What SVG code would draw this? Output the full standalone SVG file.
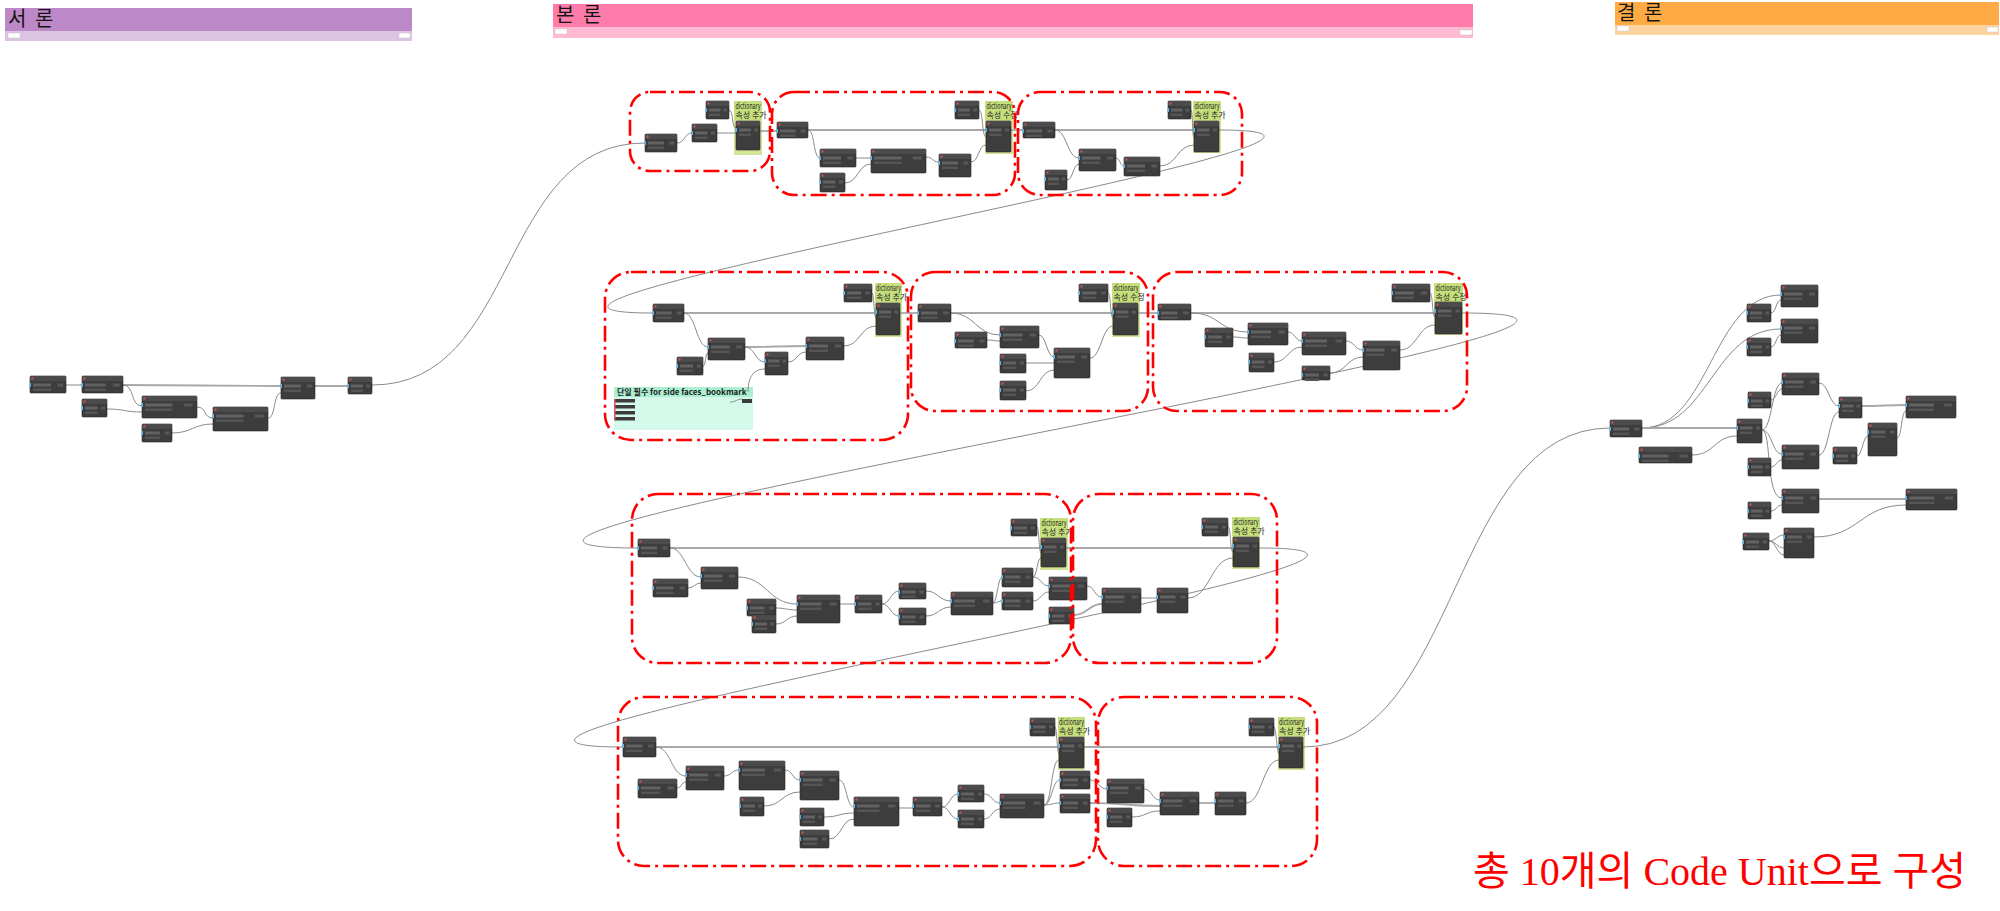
<svg xmlns="http://www.w3.org/2000/svg" xmlns:xlink="http://www.w3.org/1999/xlink" width="2000" height="911" viewBox="0 0 2000 911">
<style>
.w{fill:none;stroke:#8a8a8a;stroke-width:1}
.wm{fill:none;stroke:#a9a9a9;stroke-width:1.8}
.rg{fill:none;stroke:#ff0000;stroke-width:2.6;stroke-dasharray:16 5 3 5}
.gn{fill:#d2e596}
.gh{fill:#c6df7c}
.gt{font-family:"Noto Sans CJK KR","Noto Sans",sans-serif;font-size:8px;fill:#1c1c1c}
.ht{font-family:"Noto Sans CJK KR","Noto Sans",sans-serif;font-size:20px;fill:#151515;letter-spacing:2px}
.btn{fill:#ffffff;stroke:#c8c8c8;stroke-width:.5}
.bar{fill:#3c3c3c}
</style>
<defs>
<symbol id="nd" overflow="visible">
<rect width="100%" height="100%" rx="1" fill="#3d3d3d" stroke="#262626" stroke-width=".6"/>
<rect width="100%" height="5" fill="#4b4b4b"/>
<rect x="1.5" y="1.5" width="2" height="2" fill="#d9534f"/>
<rect x="3" y="7.5" width="50%" height="3" fill="#626262"/>
<rect x="3" y="12.5" width="50%" height="2.5" fill="#555555"/>
<rect x="76%" y="7.5" width="16%" height="3" fill="#585858"/>
<rect x="-0.6" y="7" width="1.6" height="4" fill="#5fb4ea"/>
</symbol>
</defs>
<rect width="2000" height="911" fill="#ffffff"/>

<!-- headers -->
<g id="hdr-intro">
<rect x="5" y="8" width="407" height="33" fill="#dcc3e2"/>
<rect x="5" y="8" width="407" height="23" fill="#bd88c7"/>
<text class="ht" x="8" y="26">서 론</text>
<rect class="btn" x="8" y="33" width="12" height="5"/>
<rect class="btn" x="399" y="33" width="11" height="5"/>
</g>
<g id="hdr-body">
<rect x="553" y="4" width="920" height="34" fill="#ffbad3"/>
<rect x="553" y="4" width="920" height="23" fill="#ff7caa"/>
<text class="ht" x="556" y="22">본 론</text>
<rect class="btn" x="555" y="29" width="12" height="5"/>
<rect class="btn" x="1460" y="30" width="12" height="5"/>
</g>
<g id="hdr-concl">
<rect x="1615" y="2" width="384" height="33" fill="#ffd39f"/>
<rect x="1615" y="2" width="384" height="23" fill="#ffab45"/>
<text class="ht" x="1617" y="20">결 론</text>
<rect class="btn" x="1617" y="26" width="12" height="5"/>
<rect class="btn" x="1987" y="27" width="11" height="5"/>
</g>

<!-- green notes and mint group -->
<g id="noteA"><rect class="gn" x="734" y="101" width="28" height="54"/><rect class="gh" x="734" y="101" width="28" height="19"/><text class="gt" x="735.5" y="109" textLength="25" lengthAdjust="spacingAndGlyphs">dictionary</text><text class="gt" x="735.5" y="118">속성 추가</text></g>
<g id="noteB"><rect class="gn" x="985" y="101" width="28" height="53"/><rect class="gh" x="985" y="101" width="28" height="19"/><text class="gt" x="986.5" y="109" textLength="25" lengthAdjust="spacingAndGlyphs">dictionary</text><text class="gt" x="986.5" y="118">속성 수정</text></g>
<g id="noteC"><rect class="gn" x="1193" y="101" width="28" height="52"/><rect class="gh" x="1193" y="101" width="28" height="19"/><text class="gt" x="1194.5" y="109" textLength="25" lengthAdjust="spacingAndGlyphs">dictionary</text><text class="gt" x="1194.5" y="118">속성 추가</text></g>
<g id="noteD"><rect class="gn" x="875" y="283" width="27" height="54"/><rect class="gh" x="875" y="283" width="27" height="19"/><text class="gt" x="876" y="291" textLength="25" lengthAdjust="spacingAndGlyphs">dictionary</text><text class="gt" x="876" y="300">속성 추가</text></g>
<g id="noteE"><rect class="gn" x="1112" y="283" width="28" height="54"/><rect class="gh" x="1112" y="283" width="28" height="19"/><text class="gt" x="1113.5" y="291" textLength="25" lengthAdjust="spacingAndGlyphs">dictionary</text><text class="gt" x="1113.5" y="300">속성 수정</text></g>
<g id="noteF"><rect class="gn" x="1434" y="283" width="29" height="52"/><rect class="gh" x="1434" y="283" width="29" height="19"/><text class="gt" x="1435.5" y="291" textLength="25" lengthAdjust="spacingAndGlyphs">dictionary</text><text class="gt" x="1435.5" y="300">속성 수정</text></g>
<g id="noteG"><rect class="gn" x="1040" y="518" width="28" height="52"/><rect class="gh" x="1040" y="518" width="28" height="19"/><text class="gt" x="1041.5" y="526" textLength="25" lengthAdjust="spacingAndGlyphs">dictionary</text><text class="gt" x="1041.5" y="535">속성 추가</text></g>
<g id="noteH"><rect class="gn" x="1232" y="517" width="28" height="52"/><rect class="gh" x="1232" y="517" width="28" height="19"/><text class="gt" x="1233.5" y="525" textLength="25" lengthAdjust="spacingAndGlyphs">dictionary</text><text class="gt" x="1233.5" y="534">속성 추가</text></g>
<g id="noteI"><rect class="gn" x="1058" y="717" width="27" height="53"/><rect class="gh" x="1058" y="717" width="27" height="19"/><text class="gt" x="1059" y="725" textLength="25" lengthAdjust="spacingAndGlyphs">dictionary</text><text class="gt" x="1059" y="734">속성 추가</text></g>
<g id="noteJ"><rect class="gn" x="1278" y="717" width="27" height="53"/><rect class="gh" x="1278" y="717" width="27" height="19"/><text class="gt" x="1279" y="725" textLength="25" lengthAdjust="spacingAndGlyphs">dictionary</text><text class="gt" x="1279" y="734">속성 추가</text></g>
<g id="mint">
<rect x="614" y="387" width="139" height="43" fill="#d4f8ea"/>
<rect x="614" y="387" width="139" height="10" fill="#abf0d3"/>
<text class="gt" x="617" y="395" font-weight="bold">단일 필수 for side faces_bookmark</text>
<rect class="bar" x="615" y="399" width="20" height="3.5"/><rect class="bar" x="615" y="405" width="20" height="3.5"/><rect class="bar" x="615" y="411" width="20" height="3.5"/><rect class="bar" x="615" y="417" width="20" height="3.5"/>
<rect x="614" y="399" width="1.5" height="21.5" fill="#d9534f"/>
<rect class="bar" x="742" y="399" width="10" height="4"/>
<path class="w" d="M730 402 C736 402 737 399 742 399"/>
</g>

<!-- connectors -->
<g id="connectors">
<path class="w" d="M66 385 H82"/>
<path class="wm" d="M123 385 C200 385 204 386 281 386"/>
<path class="w" d="M123 385 C135 385 130 406 142 406"/>
<path class="w" d="M107 409 C124 409 125 412 142 412"/>
<path class="w" d="M197 407 C207 407 203 418 213 418"/>
<path class="w" d="M172 433 C192 433 193 424 213 424"/>
<path class="w" d="M268 418 C276 418 273 393 281 393"/>
<path class="wm" d="M315 386 H348"/>
<path class="w" d="M372 385 C520 385 497 143 645 143"/>

<path class="w" d="M677 143 C685 143 684 133 692 133"/>
<path class="w" d="M717 133 H736"/>
<path class="w" d="M729 110 C734 110 731 128 736 128"/>
<path class="wm" d="M760 131 H777"/>
<path class="wm" d="M808 130 H986"/>
<path class="wm" d="M1011 130 H1023"/>
<path class="wm" d="M1055 130 H1194"/>
<path class="w" d="M808 130 C815 130 813 158 820 158"/>
<path class="w" d="M856 158 H871"/>
<path class="w" d="M845 183 C858 183 858 164 871 164"/>
<path class="w" d="M926 157 C933 157 932 162 939 162"/>
<path class="w" d="M971 162 C979 162 978 145 986 145"/>
<path class="w" d="M979 110 C983 110 982 137 986 137"/>
<path class="w" d="M1055 130 C1067 130 1067 158 1079 158"/>
<path class="w" d="M1067 180 C1073 180 1073 164 1079 164"/>
<path class="w" d="M1116 158 C1120 158 1120 166 1124 166"/>
<path class="w" d="M1160 166 C1177 166 1177 145 1194 145"/>
<path class="w" d="M1191 110 C1193 110 1192 137 1194 137"/>
<path class="w" d="M1219 130 C1499 130 373 313 653 313"/>

<path class="wm" d="M684 313 H876"/>
<path class="wm" d="M900 313 H918"/>
<path class="wm" d="M951 313 H1113"/>
<path class="wm" d="M1138 313 H1158"/>
<path class="wm" d="M1191 313 H1435"/>
<path class="w" d="M684 313 C696 313 696 347 708 347"/>
<path class="w" d="M703 366 C706 366 705 353 708 353"/>
<path class="wm" d="M745 347 C775 347 776 346 806 346"/>
<path class="w" d="M745 347 C755 347 755 362 765 362"/>
<path class="w" d="M788 362 C797 362 797 352 806 352"/>
<path class="w" d="M748 392 C748 375 755 369 765 369"/>
<path class="w" d="M844 346 C860 346 860 326 876 326"/>
<path class="w" d="M872 293 C874 293 874 318 876 318"/>
<path class="w" d="M951 313 C975 313 976 335 1000 335"/>
<path class="w" d="M987 340 C993 340 994 341 1000 341"/>
<path class="w" d="M1039 335 C1046 335 1047 357 1054 357"/>
<path class="w" d="M1026 363 H1054"/>
<path class="w" d="M1026 391 C1040 391 1040 370 1054 370"/>
<path class="w" d="M1090 358 C1101 358 1102 326 1113 326"/>
<path class="w" d="M1108 293 C1111 293 1110 318 1113 318"/>
<path class="w" d="M1191 313 C1220 313 1219 332 1248 332"/>
<path class="w" d="M1233 337 C1240 337 1241 338 1248 338"/>
<path class="w" d="M1288 332 C1295 332 1295 341 1302 341"/>
<path class="w" d="M1274 362 C1288 362 1288 347 1302 347"/>
<path class="w" d="M1346 341 C1354 341 1355 350 1363 350"/>
<path class="w" d="M1330 373 C1346 373 1347 357 1363 357"/>
<path class="w" d="M1400 350 C1417 350 1418 325 1435 325"/>
<path class="w" d="M1430 293 C1433 293 1432 317 1435 317"/>
<path class="w" d="M1462 313 C1822 313 278 548 638 548"/>

<path class="wm" d="M670 548 H1041"/>
<path class="wm" d="M1066 548 H1233"/>
<path class="w" d="M670 548 C685 548 686 577 701 577"/>
<path class="w" d="M688 588 C694 588 695 583 701 583"/>
<path class="w" d="M738 577 C767 577 768 604 797 604"/>
<path class="w" d="M776 608 C786 608 787 610 797 610"/>
<path class="w" d="M776 624 C786 624 787 616 797 616"/>
<path class="w" d="M840 604 H855"/>
<path class="w" d="M882 604 C890 604 891 591 899 591"/>
<path class="w" d="M882 604 C890 604 891 616 899 616"/>
<path class="w" d="M926 591 C938 591 939 601 951 601"/>
<path class="w" d="M926 616 C938 616 939 607 951 607"/>
<path class="w" d="M993 603 C997 603 998 577 1002 577"/>
<path class="w" d="M993 603 C997 603 998 601 1002 601"/>
<path class="w" d="M1033 577 C1037 577 1037 558 1041 558"/>
<path class="w" d="M1037 527 C1039 527 1039 553 1041 553"/>
<path class="w" d="M1033 577 C1041 577 1041 586 1049 586"/>
<path class="w" d="M1033 601 C1041 601 1041 592 1049 592"/>
<path class="w" d="M1087 586 C1095 586 1094 597 1102 597"/>
<path class="wm" d="M1074 615 C1088 615 1088 604 1102 604"/>
<path class="w" d="M1141 598 H1157"/>
<path class="w" d="M1188 598 C1210 598 1211 558 1233 558"/>
<path class="w" d="M1228 527 C1231 527 1230 552 1233 552"/>
<path class="w" d="M1259 548 C1564 548 318 747 623 747"/>

<path class="wm" d="M656 747 H1059"/>
<path class="wm" d="M1084 747 H1279"/>
<path class="w" d="M656 747 C671 747 671 776 686 776"/>
<path class="w" d="M677 788 C682 788 681 782 686 782"/>
<path class="w" d="M724 776 C732 776 731 770 739 770"/>
<path class="w" d="M785 770 C793 770 792 780 800 780"/>
<path class="w" d="M764 806 C782 806 782 792 800 792"/>
<path class="w" d="M839 780 C847 780 846 807 854 807"/>
<path class="w" d="M824 817 C839 817 839 813 854 813"/>
<path class="w" d="M829 839 C842 839 841 819 854 819"/>
<path class="w" d="M899 808 H913"/>
<path class="w" d="M942 807 C950 807 950 794 958 794"/>
<path class="w" d="M942 807 C950 807 950 819 958 819"/>
<path class="w" d="M984 794 C992 794 992 803 1000 803"/>
<path class="w" d="M984 819 C992 819 992 809 1000 809"/>
<path class="w" d="M1044 805 C1052 805 1052 780 1060 780"/>
<path class="w" d="M1044 805 C1052 805 1052 803 1060 803"/>
<path class="w" d="M1044 805 C1052 805 1051 760 1059 760"/>
<path class="w" d="M1055 727 C1057 727 1057 754 1059 754"/>
<path class="w" d="M1090 780 C1098 780 1099 789 1107 789"/>
<path class="wm" d="M1090 803 C1125 803 1125 806 1160 806"/>
<path class="w" d="M1144 789 C1152 789 1152 800 1160 800"/>
<path class="w" d="M1132 817 C1146 817 1146 811 1160 811"/>
<path class="wm" d="M1199 803 H1215"/>
<path class="w" d="M1246 803 C1262 803 1263 760 1279 760"/>
<path class="w" d="M1274 727 C1276 727 1277 754 1279 754"/>
<path class="w" d="M1303 747 C1460 747 1450 428 1610 428"/>

<path class="w" d="M1642 428 C1710 428 1712 295 1781 295"/>
<path class="w" d="M1642 428 C1710 428 1712 329 1781 329"/>
<path class="wm" d="M1642 428 H1737"/>
<path class="w" d="M1771 313 C1776 313 1776 300 1781 300"/>
<path class="w" d="M1771 347 C1776 347 1776 335 1781 335"/>
<path class="w" d="M1692 455 C1715 455 1714 436 1737 436"/>
<path class="w" d="M1762 430 C1772 430 1772 383 1782 383"/>
<path class="w" d="M1762 430 C1772 430 1772 454 1782 454"/>
<path class="w" d="M1762 430 C1772 430 1765 498 1782 498"/>
<path class="w" d="M1771 400 C1776 400 1777 389 1782 389"/>
<path class="w" d="M1771 467 C1776 467 1777 460 1782 460"/>
<path class="w" d="M1819 383 C1829 383 1829 406 1839 406"/>
<path class="w" d="M1819 455 C1829 455 1829 412 1839 412"/>
<path class="wm" d="M1862 406 C1884 406 1884 405 1906 405"/>
<path class="w" d="M1857 456 C1862 456 1863 436 1868 436"/>
<path class="w" d="M1897 438 C1902 438 1901 411 1906 411"/>
<path class="wm" d="M1819 499 H1906"/>
<path class="w" d="M1771 511 C1776 511 1777 505 1782 505"/>
<path class="w" d="M1769 541 C1776 541 1777 535 1784 535"/>
<path class="w" d="M1769 541 C1776 541 1777 548 1784 548"/>
<path class="w" d="M1769 541 C1776 541 1777 555 1784 555"/>
<path class="w" d="M1814 537 C1860 537 1860 505 1906 505"/>
</g>

<!-- nodes -->
<g id="n1"><use href="#nd" x="30" y="376" width="36" height="17"/></g>
<g id="n2"><use href="#nd" x="82" y="376" width="41" height="17"/></g>
<g id="n3"><use href="#nd" x="82" y="399" width="25" height="18"/></g>
<g id="n4"><use href="#nd" x="142" y="396" width="55" height="22"/></g>
<g id="n5"><use href="#nd" x="142" y="424" width="30" height="18"/></g>
<g id="n6"><use href="#nd" x="213" y="407" width="55" height="24"/></g>
<g id="n7"><use href="#nd" x="281" y="377" width="34" height="22"/></g>
<g id="n8"><use href="#nd" x="348" y="377" width="24" height="17"/></g>

<g id="a1"><use href="#nd" x="645" y="134" width="32" height="18"/></g>
<g id="a2"><use href="#nd" x="692" y="124" width="25" height="18"/></g>
<g id="a3"><use href="#nd" x="706" y="101" width="23" height="18"/></g>
<g id="a4"><use href="#nd" x="736" y="121" width="24" height="29"/></g>
<g id="b1"><use href="#nd" x="777" y="122" width="31" height="16"/></g>
<g id="b2"><use href="#nd" x="820" y="149" width="36" height="18"/></g>
<g id="b3"><use href="#nd" x="820" y="173" width="25" height="19"/></g>
<g id="b4"><use href="#nd" x="871" y="149" width="55" height="24"/></g>
<g id="b5"><use href="#nd" x="939" y="154" width="32" height="23"/></g>
<g id="b6"><use href="#nd" x="955" y="101" width="24" height="18"/></g>
<g id="b7"><use href="#nd" x="986" y="121" width="25" height="31"/></g>
<g id="c1"><use href="#nd" x="1023" y="122" width="32" height="16"/></g>
<g id="c2"><use href="#nd" x="1045" y="170" width="22" height="20"/></g>
<g id="c3"><use href="#nd" x="1079" y="149" width="37" height="22"/></g>
<g id="c4"><use href="#nd" x="1124" y="157" width="36" height="19"/></g>
<g id="c5"><use href="#nd" x="1168" y="101" width="23" height="18"/></g>
<g id="c6"><use href="#nd" x="1194" y="121" width="25" height="31"/></g>

<g id="d1"><use href="#nd" x="653" y="304" width="31" height="18"/></g>
<g id="d2"><use href="#nd" x="677" y="357" width="26" height="18"/></g>
<g id="d3"><use href="#nd" x="708" y="338" width="37" height="22"/></g>
<g id="d4"><use href="#nd" x="765" y="352" width="23" height="23"/></g>
<g id="d5"><use href="#nd" x="806" y="337" width="38" height="23"/></g>
<g id="d6"><use href="#nd" x="844" y="284" width="28" height="18"/></g>
<g id="d7"><use href="#nd" x="876" y="303" width="24" height="32"/></g>
<g id="e1"><use href="#nd" x="918" y="304" width="33" height="18"/></g>
<g id="e2"><use href="#nd" x="955" y="332" width="32" height="16"/></g>
<g id="e3"><use href="#nd" x="1000" y="326" width="39" height="22"/></g>
<g id="e4"><use href="#nd" x="1000" y="354" width="26" height="19"/></g>
<g id="e5"><use href="#nd" x="1000" y="381" width="26" height="19"/></g>
<g id="e6"><use href="#nd" x="1054" y="348" width="36" height="30"/></g>
<g id="e7"><use href="#nd" x="1079" y="284" width="29" height="18"/></g>
<g id="e8"><use href="#nd" x="1113" y="303" width="25" height="32"/></g>
<g id="f1"><use href="#nd" x="1158" y="304" width="33" height="16"/></g>
<g id="f2"><use href="#nd" x="1205" y="328" width="28" height="19"/></g>
<g id="f3"><use href="#nd" x="1248" y="323" width="40" height="22"/></g>
<g id="f4"><use href="#nd" x="1249" y="353" width="25" height="19"/></g>
<g id="f5"><use href="#nd" x="1302" y="332" width="44" height="23"/></g>
<g id="f6"><use href="#nd" x="1302" y="366" width="28" height="14"/></g>
<g id="f7"><use href="#nd" x="1363" y="341" width="37" height="29"/></g>
<g id="f8"><use href="#nd" x="1392" y="284" width="38" height="18"/></g>
<g id="f9"><use href="#nd" x="1435" y="302" width="27" height="32"/></g>

<g id="g1"><use href="#nd" x="638" y="539" width="32" height="18"/></g>
<g id="g2"><use href="#nd" x="653" y="579" width="35" height="18"/></g>
<g id="g3"><use href="#nd" x="701" y="567" width="37" height="22"/></g>
<g id="g4"><use href="#nd" x="747" y="599" width="29" height="17"/></g>
<g id="g5"><use href="#nd" x="752" y="615" width="24" height="18"/></g>
<g id="g6"><use href="#nd" x="797" y="595" width="43" height="28"/></g>
<g id="g7"><use href="#nd" x="855" y="595" width="27" height="18"/></g>
<g id="g8"><use href="#nd" x="899" y="583" width="27" height="16"/></g>
<g id="g9"><use href="#nd" x="899" y="608" width="27" height="17"/></g>
<g id="g10"><use href="#nd" x="951" y="592" width="42" height="23"/></g>
<g id="g11"><use href="#nd" x="1002" y="568" width="31" height="19"/></g>
<g id="g12"><use href="#nd" x="1002" y="592" width="31" height="18"/></g>
<g id="g13"><use href="#nd" x="1011" y="519" width="26" height="17"/></g>
<g id="g14"><use href="#nd" x="1041" y="538" width="25" height="29"/></g>
<g id="g15"><use href="#nd" x="1049" y="577" width="38" height="23"/></g>
<g id="g16"><use href="#nd" x="1049" y="607" width="25" height="17"/></g>
<g id="h1"><use href="#nd" x="1102" y="588" width="39" height="25"/></g>
<g id="h2"><use href="#nd" x="1157" y="588" width="31" height="25"/></g>
<g id="h3"><use href="#nd" x="1202" y="518" width="26" height="18"/></g>
<g id="h4"><use href="#nd" x="1233" y="537" width="26" height="30"/></g>

<g id="i1"><use href="#nd" x="623" y="737" width="33" height="20"/></g>
<g id="i2"><use href="#nd" x="638" y="779" width="39" height="19"/></g>
<g id="i3"><use href="#nd" x="686" y="766" width="38" height="24"/></g>
<g id="i4"><use href="#nd" x="739" y="761" width="46" height="29"/></g>
<g id="i5"><use href="#nd" x="740" y="797" width="24" height="19"/></g>
<g id="i6"><use href="#nd" x="800" y="771" width="39" height="29"/></g>
<g id="i7"><use href="#nd" x="800" y="808" width="24" height="18"/></g>
<g id="i8"><use href="#nd" x="800" y="830" width="29" height="18"/></g>
<g id="i9"><use href="#nd" x="854" y="797" width="45" height="29"/></g>
<g id="i10"><use href="#nd" x="913" y="797" width="29" height="19"/></g>
<g id="i11"><use href="#nd" x="958" y="785" width="26" height="17"/></g>
<g id="i12"><use href="#nd" x="958" y="810" width="26" height="18"/></g>
<g id="i13"><use href="#nd" x="1000" y="794" width="44" height="24"/></g>
<g id="i14"><use href="#nd" x="1030" y="718" width="25" height="18"/></g>
<g id="i15"><use href="#nd" x="1059" y="737" width="25" height="31"/></g>
<g id="i16"><use href="#nd" x="1060" y="771" width="30" height="18"/></g>
<g id="i17"><use href="#nd" x="1060" y="794" width="30" height="19"/></g>
<g id="j1"><use href="#nd" x="1107" y="779" width="37" height="24"/></g>
<g id="j2"><use href="#nd" x="1107" y="808" width="25" height="19"/></g>
<g id="j3"><use href="#nd" x="1160" y="792" width="39" height="23"/></g>
<g id="j4"><use href="#nd" x="1215" y="792" width="31" height="23"/></g>
<g id="j5"><use href="#nd" x="1249" y="718" width="25" height="18"/></g>
<g id="j6"><use href="#nd" x="1279" y="737" width="24" height="31"/></g>

<g id="k1"><use href="#nd" x="1610" y="420" width="32" height="17"/></g>
<g id="k2"><use href="#nd" x="1639" y="447" width="53" height="16"/></g>
<g id="k3"><use href="#nd" x="1747" y="304" width="24" height="18"/></g>
<g id="k4"><use href="#nd" x="1781" y="285" width="37" height="22"/></g>
<g id="k5"><use href="#nd" x="1747" y="338" width="24" height="18"/></g>
<g id="k6"><use href="#nd" x="1781" y="319" width="37" height="24"/></g>
<g id="k7"><use href="#nd" x="1782" y="373" width="37" height="22"/></g>
<g id="k8"><use href="#nd" x="1748" y="392" width="23" height="16"/></g>
<g id="k9"><use href="#nd" x="1737" y="419" width="25" height="24"/></g>
<g id="k10"><use href="#nd" x="1839" y="397" width="23" height="21"/></g>
<g id="k11"><use href="#nd" x="1906" y="396" width="50" height="22"/></g>
<g id="k12"><use href="#nd" x="1782" y="445" width="37" height="24"/></g>
<g id="k13"><use href="#nd" x="1748" y="458" width="23" height="18"/></g>
<g id="k14"><use href="#nd" x="1833" y="447" width="24" height="17"/></g>
<g id="k15"><use href="#nd" x="1868" y="423" width="29" height="33"/></g>
<g id="k16"><use href="#nd" x="1782" y="489" width="37" height="24"/></g>
<g id="k17"><use href="#nd" x="1748" y="502" width="23" height="17"/></g>
<g id="k18"><use href="#nd" x="1906" y="489" width="51" height="21"/></g>
<g id="k19"><use href="#nd" x="1743" y="533" width="26" height="17"/></g>
<g id="k20"><use href="#nd" x="1784" y="528" width="30" height="30"/></g>

<!-- code unit frames -->
<g id="units">
<rect class="rg" x="630" y="92" width="140" height="79" rx="20"/>
<rect class="rg" x="772" y="92" width="243" height="103" rx="22"/>
<rect class="rg" x="1018" y="92" width="224" height="103" rx="22"/>
<rect class="rg" x="605" y="272" width="303" height="168" rx="26"/>
<rect class="rg" x="911" y="272" width="237" height="139" rx="24"/>
<rect class="rg" x="1153" y="272" width="314" height="139" rx="24"/>
<rect class="rg" x="632" y="494" width="439" height="169" rx="26"/>
<rect class="rg" x="1073" y="494" width="204" height="169" rx="26"/>
<rect class="rg" x="618" y="697" width="478" height="169" rx="26"/>
<rect class="rg" x="1098" y="697" width="219" height="169" rx="26"/>
</g>

<text x="1473" y="885" font-family="'Liberation Serif','Noto Sans CJK KR',serif" font-size="40" fill="#ff0000">총 10개의 Code Unit으로 구성</text>
</svg>
